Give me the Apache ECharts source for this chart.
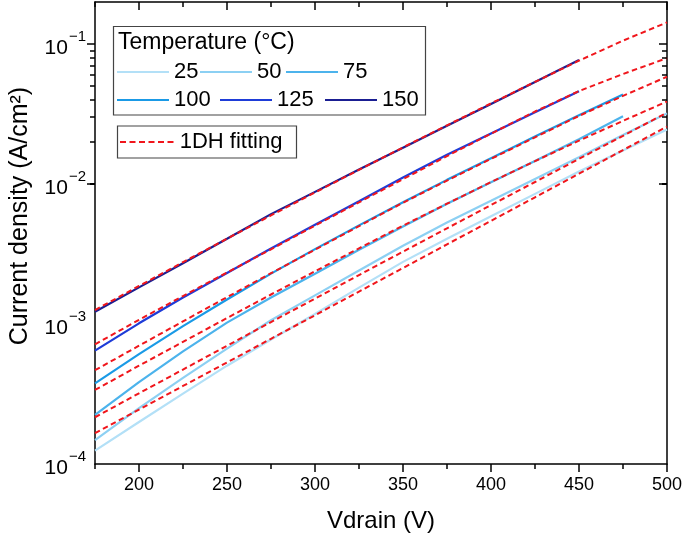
<!DOCTYPE html>
<html>
<head>
<meta charset="utf-8">
<script src="https://cdn.jsdelivr.net/npm/echarts@6/dist/echarts.min.js"></script>
<style>html,body{margin:0;padding:0;background:#fff}#c{width:685px;height:538px}</style>
</head>
<body>
<div id="c"></div>
<script>
// ---- data ----
const voltage = [175, 200, 225, 250, 275, 300, 325, 350, 375, 400, 425, 450, 475, 500];
// measured current density (A/cm^2)
const j25  = [1.245e-4, 1.995e-4, 3.18e-4, 5.04e-4, 7.76e-4, 1.18e-3, 1.82e-3, 2.78e-3, 4.07e-3, 5.89e-3, 8.51e-3, 1.23e-2, 1.738e-2, 2.455e-2];
const j50  = [1.483e-4, 2.51e-4, 4.12e-4, 6.68e-4, 1.064e-3, 1.603e-3, 2.415e-3, 3.63e-3, 5.31e-3, 7.59e-3, 1.089e-2, 1.556e-2, 2.239e-2, 3.2e-2];
const j75  = [2.24e-4, 3.85e-4, 6.38e-4, 1.023e-3, 1.549e-3, 2.29e-3, 3.39e-3, 4.98e-3, 7.24e-3, 1.03e-2, 1.462e-2, 2.09e-2, 3.05e-2];
const j100 = [3.77e-4, 6.1e-4, 9.66e-4, 1.496e-3, 2.291e-3, 3.43e-3, 5.07e-3, 7.41e-3, 1.072e-2, 1.531e-2, 2.188e-2, 3.1e-2, 4.37e-2];
const j125 = [6.46e-4, 1.012e-3, 1.549e-3, 2.317e-3, 3.467e-3, 5.13e-3, 7.55e-3, 1.114e-2, 1.622e-2, 2.301e-2, 3.26e-2, 4.61e-2];
const j150 = [1.225e-3, 1.828e-3, 2.72e-3, 4.07e-3, 6.1e-3, 8.8e-3, 1.27e-2, 1.82e-2, 2.61e-2, 3.74e-2, 5.37e-2, 7.69e-2];
// 1DH fitting curves
const fit25  = [1.66e-4, 2.449e-4, 3.61e-4, 5.32e-4, 7.85e-4, 1.156e-3, 1.706e-3, 2.512e-3, 3.71e-3, 5.46e-3, 8.05e-3, 1.186e-2, 1.75e-2, 2.576e-2];
const fit50  = [2.158e-4, 3.2e-4, 4.73e-4, 7.0e-4, 1.033e-3, 1.52e-3, 2.239e-3, 3.29e-3, 4.83e-3, 7.08e-3, 1.035e-2, 1.514e-2, 2.213e-2, 3.24e-2];
const fit75  = [3.38e-4, 5.04e-4, 7.46e-4, 1.104e-3, 1.626e-3, 2.382e-3, 3.475e-3, 5.05e-3, 7.24e-3, 1.033e-2, 1.459e-2, 2.042e-2, 2.83e-2, 3.89e-2];
const fit100 = [4.68e-4, 7.0e-4, 1.045e-3, 1.556e-3, 2.307e-3, 3.40e-3, 5.01e-3, 7.36e-3, 1.059e-2, 1.514e-2, 2.158e-2, 3.07e-2, 4.27e-2, 5.85e-2];
const fit125 = [7.16e-4, 1.072e-3, 1.585e-3, 2.333e-3, 3.42e-3, 5.05e-3, 7.41e-3, 1.084e-2, 1.585e-2, 2.291e-2, 3.3e-2, 4.62e-2, 6.12e-2, 7.94e-2];
const fit150 = [1.259e-3, 1.871e-3, 2.767e-3, 4.074e-3, 5.97e-3, 8.71e-3, 1.265e-2, 1.828e-2, 2.63e-2, 3.77e-2, 5.37e-2, 7.62e-2, 1.059e-1, 1.429e-1];

const temperatures = ['25', '50', '75', '100', '125', '150'];
const measured = [j25, j50, j75, j100, j125, j150];
const fits = [fit25, fit50, fit75, fit100, fit125, fit150];

// ---- axes / ticks ----
const xMin = 175, xMax = 500;         // plotted range
const xMajorStart = 200, xStep = 50;
const xMajorTicks = [200, 250, 300, 350, 400, 450, 500];
const xMinorTicks = [175, 225, 275, 325, 375, 425, 475];
const yMin = 1e-4, yMax = 0.2;        // plotted range
const yMajorTop = 1e-1;               // last labelled decade
const yMajorTicks = [1e-4, 1e-3, 1e-2, 1e-1];
const yMinorTicks = [2e-4, 3e-4, 4e-4, 5e-4, 6e-4, 7e-4, 8e-4, 9e-4,
                     2e-3, 3e-3, 4e-3, 5e-3, 6e-3, 7e-3, 8e-3, 9e-3,
                     2e-2, 3e-2, 4e-2, 5e-2, 6e-2, 7e-2, 8e-2, 9e-2];

// ---- layout / styles ----
const FONT = '"Liberation Sans", Arial, sans-serif';
const G = { left: 95, top: 2, width: 572, height: 462 };
const lg = Math.log10;
const dxMaj = Math.round((xMajorStart - xMin) / (xMax - xMin) * G.width);
const dyMaj = Math.round((lg(yMax) - lg(yMajorTop)) / (lg(yMax) - lg(yMin)) * G.height);
const gMajX = { left: G.left + dxMaj, top: G.top, width: G.width - dxMaj, height: G.height };
const gMajY = { left: G.left, top: G.top + dyMaj, width: G.width, height: G.height - dyMaj };
const bottomY = G.top + G.height, rightX = G.left + G.width;
const MAJ = 8, MIN = 5;               // tick lengths

const colors = ['#b3e0f7', '#8cd0f3', '#4cb3ec', '#1a9ae6', '#1e3cd8', '#1a1e92'];
const fitColor = '#f0161c';

const pair = (arr) => arr.map((v, i) => [voltage[i], v]);

const series = [];
temperatures.forEach((t, k) => {
  series.push({
    name: t, type: 'line', data: pair(measured[k]), showSymbol: false,
    xAxisIndex: 0, yAxisIndex: 0,
    lineStyle: { color: colors[k], width: 2.2 }, itemStyle: { color: colors[k] }
  });
});
fits.forEach((f) => {
  series.push({
    name: '1DH fitting', type: 'line', data: pair(f), showSymbol: false,
    xAxisIndex: 0, yAxisIndex: 0,
    lineStyle: { color: fitColor, width: 2, type: [5.5, 3.5] }, itemStyle: { color: fitColor }
  });
});

const tickLine = { color: '#000', width: 1.5, type: 'solid' };
function lineOn() { return { show: true, lineStyle: { color: '#000', width: 1.5 } }; }
function blankAxis(gridIndex, type, min, max) {
  return {
    gridIndex: gridIndex, type: type, min: min, max: max,
    axisLine: { show: false }, axisTick: { show: false }, axisLabel: { show: false }, splitLine: { show: false }
  };
}

// main axes (indices 0..3) - extra strip axes appended after them
const mainX = [
  { // 0: data axis, bottom frame
    gridIndex: 0, type: 'value', min: xMin, max: xMax, interval: xStep,
    axisLine: lineOn(), axisTick: { show: false }, axisLabel: { show: false }, splitLine: { show: false },
    name: 'Vdrain (V)', nameLocation: 'middle', nameGap: 45,
    nameTextStyle: { fontSize: 24, fontFamily: FONT, color: '#000' }
  },
  { // 1: labels 200..500 bottom
    gridIndex: 1, type: 'value', min: xMajorStart, max: xMax, interval: xStep,
    axisLine: { show: false }, axisTick: { show: false },
    axisLabel: { fontSize: 18, fontFamily: FONT, color: '#000', margin: 12 }, splitLine: { show: false }
  },
  blankAxis(2, 'value', xMin, xMax),
  { // 3: top frame
    gridIndex: 0, type: 'value', min: xMin, max: xMax, interval: xStep, position: 'top',
    axisLine: lineOn(), axisTick: { show: false }, axisLabel: { show: false }, splitLine: { show: false }
  }
];
const yLabelFormatter = function (v) {
  const e = Math.round(lg(v));
  if (Math.abs(v - Math.pow(10, e)) / v > 1e-6) return '';
  return '{b|10}{s|' + String(e).replace('-', '\u2212') + '}';
};
const mainY = [
  { // 0: data axis (log), left frame
    gridIndex: 0, type: 'log', min: yMin, max: yMax,
    axisLine: lineOn(), axisTick: { show: false }, axisLabel: { show: false }, splitLine: { show: false },
    name: 'Current density (A/cm²)', nameLocation: 'middle', nameGap: 62,
    nameTextStyle: { fontSize: 25, fontFamily: FONT, color: '#000', padding: [0, 0, 0, 34] }
  },
  blankAxis(1, 'value', 0, 1),
  { // 2: decade labels, left
    gridIndex: 2, type: 'log', min: yMin, max: yMajorTop,
    axisLine: { show: false }, axisTick: { show: false }, splitLine: { show: false },
    axisLabel: {
      margin: 9, color: '#000', fontFamily: FONT, formatter: yLabelFormatter,
      rich: {
        b: { fontSize: 21, fontFamily: FONT, color: '#000', lineHeight: 30, verticalAlign: 'bottom' },
        s: { fontSize: 15, fontFamily: FONT, color: '#000', lineHeight: 15, verticalAlign: 'top', padding: [0, 0, 0, 1] }
      }
    }
  },
  { // 3: right frame
    gridIndex: 0, type: 'log', min: yMin, max: yMax, position: 'right',
    axisLine: lineOn(), axisTick: { show: false }, axisLabel: { show: false }, splitLine: { show: false }
  }
];

// tick marks: thin strip grids along the frame, each with a mark line per tick value
const grids = [G, gMajX, gMajY];
const extraX = [], extraY = [];
function tickSeries(xi, yi, anchor, markData) {
  return {
    type: 'line', xAxisIndex: xi, yAxisIndex: yi, data: [anchor], showSymbol: false, silent: true,
    clip: false, lineStyle: { opacity: 0 }, tooltip: { show: false },
    markLine: {
      silent: true, symbol: ['none', 'none'], label: { show: false }, animation: false,
      emphasis: { disabled: true }, lineStyle: tickLine, data: markData
    }
  };
}
function addXTicks(rect, min, ticks) {
  const gi = grids.length; grids.push(rect);
  extraX.push({ gridIndex: gi, type: 'value', min: min, max: xMax,
    axisLine: { show: false }, axisTick: { show: false }, axisLabel: { show: false }, splitLine: { show: false } });
  extraY.push(blankAxis(gi, 'value', 0, 1));
  series.push(tickSeries(mainX.length + extraX.length - 1, mainY.length + extraY.length - 1,
    [min, 0.5], ticks.map(v => ({ xAxis: v }))));
}
function addYTicks(rect, ticks) {
  const gi = grids.length; grids.push(rect);
  extraY.push({ gridIndex: gi, type: 'log', min: yMin, max: yMajorTop,
    axisLine: { show: false }, axisTick: { show: false }, axisLabel: { show: false }, splitLine: { show: false } });
  extraX.push(blankAxis(gi, 'value', 0, 1));
  series.push(tickSeries(mainX.length + extraX.length - 1, mainY.length + extraY.length - 1,
    [0.5, yMin], ticks.map(v => ({ yAxis: v }))));
}
addXTicks({ left: G.left, top: bottomY, width: G.width, height: MIN }, xMin, xMinorTicks);
addXTicks({ left: gMajX.left, top: bottomY, width: gMajX.width, height: MAJ }, xMajorStart, xMajorTicks);
addXTicks({ left: G.left, top: G.top, width: G.width, height: MIN }, xMin, xMinorTicks);
addXTicks({ left: gMajX.left, top: G.top, width: gMajX.width, height: MAJ }, xMajorStart, xMajorTicks);
addYTicks({ left: G.left - MAJ, top: gMajY.top, width: MAJ, height: gMajY.height }, yMajorTicks);
addYTicks({ left: G.left - MIN, top: gMajY.top, width: MIN, height: gMajY.height }, yMinorTicks);
addYTicks({ left: rightX - MAJ, top: gMajY.top, width: MAJ, height: gMajY.height }, yMajorTicks);
addYTicks({ left: rightX - MIN, top: gMajY.top, width: MIN, height: gMajY.height }, yMinorTicks);

const solidIcon = 'path://M0 0H52V2.2H0Z';
const dashIcon = 'path://M0 0h6v2.2h-6z M9.5 0h6v2.2h-6z M19 0h6v2.2h-6z M28.5 0h6v2.2h-6z M38 0h6v2.2h-6z M47.5 0h6v2.2h-6z';
const legendBase = {
  itemWidth: 52, itemHeight: 2.2, padding: 0, selectedMode: false, icon: solidIcon,
  textStyle: { fontSize: 22, fontFamily: FONT, color: '#000', lineHeight: 22 }
};
const legendPos = [
  { name: '25', left: 117, cy: 72 },
  { name: '50', left: 200, cy: 72 },
  { name: '75', left: 286, cy: 72 },
  { name: '100', left: 117, cy: 100 },
  { name: '125', left: 220, cy: 100 },
  { name: '150', left: 325, cy: 100 }
];
const legends = legendPos.map(p => Object.assign({}, legendBase, { data: [p.name], left: p.left, top: p.cy - 11 }));
legends.push(Object.assign({}, legendBase, { data: ['1DH fitting'], left: 120, top: 131, itemWidth: 56, icon: dashIcon }));

const option = {
  animation: false,
  grid: grids,
  legend: legends,
  xAxis: mainX.concat(extraX),
  yAxis: mainY.concat(extraY),
  graphic: [
    { type: 'rect', shape: { x: 113.5, y: 26.5, width: 312, height: 88.5 }, style: { fill: 'none', stroke: '#444', lineWidth: 1.2 } },
    { type: 'rect', shape: { x: 117.5, y: 126, width: 179, height: 32 }, style: { fill: 'none', stroke: '#444', lineWidth: 1.2 } },
    { type: 'text', style: { text: 'Temperature (°C)', x: 118, y: 43, font: '23px ' + FONT, fill: '#000', verticalAlign: 'middle' } }
  ],
  series: series
};

const chart = echarts.init(document.getElementById('c'));
chart.setOption(option);
</script>
</body>
</html>
